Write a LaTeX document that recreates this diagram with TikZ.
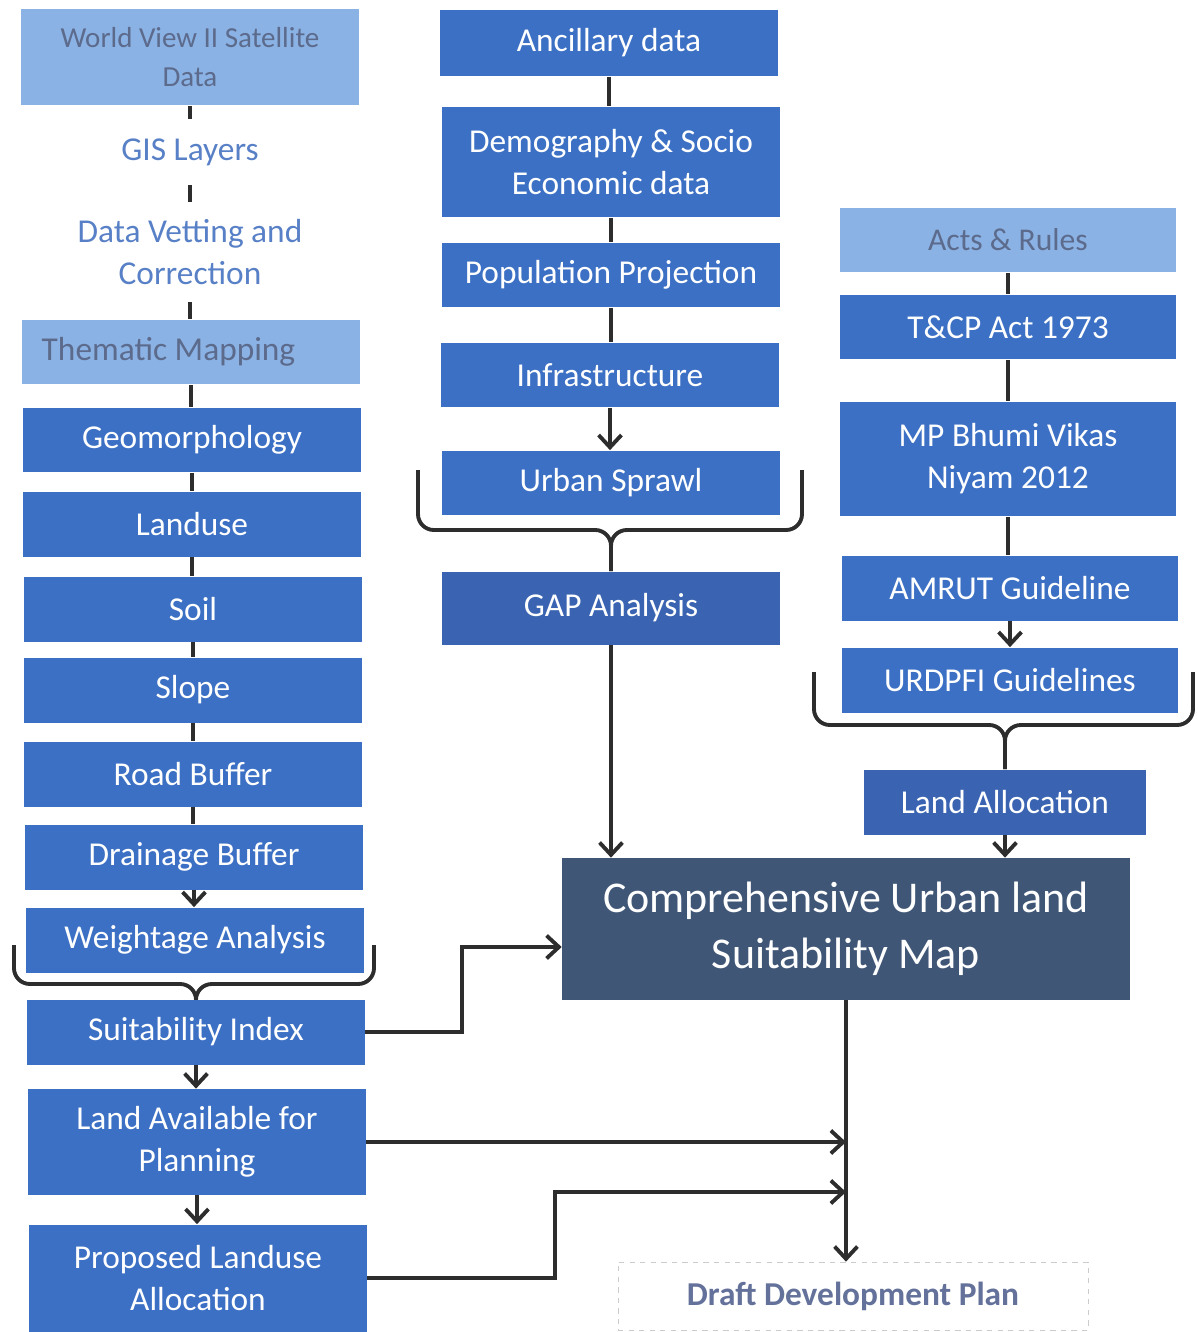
\documentclass[tikz,border=0pt]{standalone}
\usepackage{fontspec}
\setmainfont{Carlito}
\usetikzlibrary{arrows.meta}

\definecolor{boxblue}{RGB}{60,112,196}
\definecolor{gapblue}{RGB}{58,100,178}
\definecolor{paleblue}{RGB}{138,178,228}
\definecolor{paletext}{RGB}{92,106,140}
\definecolor{softtext}{RGB}{88,128,198}
\definecolor{slate}{RGB}{64,86,118}
\definecolor{drafttext}{RGB}{100,114,155}
\definecolor{inkline}{RGB}{45,45,45}

\tikzset{
  stepbox/.style={fill=boxblue, text=white, align=center, inner sep=2pt,
    minimum width=6.76cm, minimum height=1.3cm,
    font=\fontsize{19}{24}\selectfont},
  palebox/.style={stepbox, fill=paleblue, text=paletext},
  plainbox/.style={align=center, text=softtext, minimum width=6.76cm,
    font=\fontsize{19}{24}\selectfont},
  link/.style={draw=inkline, line width=2.2pt},
  arr/.style={link, -{Straight Barb[length=7pt,width=13pt]}},
  brace/.style={link, rounded corners=9pt}
}

\begin{document}
\begin{tikzpicture}[x=0.02cm, y=-0.02cm]
  \useasboundingbox (0,0) rectangle (1197,1332);

  % Left column
  \node[palebox, minimum height=1.94cm, font=\fontsize{16.5}{22}\selectfont] (wv) at (190,57)
    {World View II Satellite\\Data};
  \node[plainbox, minimum height=1.3cm] (gis) at (190,152) {GIS Layers};
  \node[plainbox, minimum height=2cm] (dvc) at (190,252) {Data Vetting and\\Correction};
  \node[palebox] (them) at (191,352) {\hspace*{-0.9cm}Thematic Mapping};
  \node[stepbox] (geo) at (192,440) {Geomorphology};
  \node[stepbox] (lu) at (192,524) {Landuse};
  \node[stepbox] (soil) at (193,609) {Soil};
  \node[stepbox] (slope) at (193,690) {Slope};
  \node[stepbox] (road) at (193,774) {Road Buffer};
  \node[stepbox] (drain) at (194,857) {Drainage Buffer};
  \node[stepbox] (wa) at (195,940) {Weightage Analysis};
  \node[stepbox] (si) at (196,1032) {Suitability Index};
  \node[stepbox, minimum height=2.12cm] (la) at (197,1142) {Land Available for\\Planning};
  \node[stepbox, minimum height=2.14cm] (pl) at (198,1278) {Proposed Landuse\\Allocation};

  \foreach \a/\b in {wv/gis,gis/dvc,dvc/them,them/geo,geo/lu,lu/soil,soil/slope,slope/road,road/drain}
    \draw[link] (\a.south) -- (\a.south |- \b.north);
  \draw[arr] (drain.south) -- (drain.south |- wa.north);
  \draw[arr] (si.south) -- (si.south |- la.north);
  \draw[arr] (la.south) -- (la.south |- pl.north);

  % Brace under weightage
  \coordinate (wal) at (14,945);
  \coordinate (war) at (374,945);
  \draw[brace] (wal) -- (14,984) -- (si.north |- 0,984) -- (si.north);
  \draw[brace] (war) -- (374,984) -- (si.north |- 0,984) -- (si.north);

  % Middle column
  \node[stepbox, minimum height=1.34cm] (anc) at (609,43) {Ancillary data};
  \node[stepbox, minimum height=2.22cm] (demo) at (611,162) {Demography \& Socio\\Economic data};
  \node[stepbox] (pop) at (611,275) {Population Projection};
  \node[stepbox] (infra) at (610,375) {Infrastructure};
  \node[stepbox] (us) at (611,483) {Urban Sprawl};
  \node[stepbox, fill=gapblue, minimum height=1.46cm] (gap) at (611,608) {GAP Analysis};

  \foreach \a/\b in {anc/demo,demo/pop,pop/infra}
    \draw[link] (\a.south) -- (\a.south |- \b.north);
  \draw[arr] (infra.south) -- (infra.south |- us.north);

  \coordinate (usl) at (418,470);
  \coordinate (usr) at (802,470);
  \draw[brace] (usl) -- (418,530) -- (gap.north |- 0,530) -- (gap.north);
  \draw[brace] (usr) -- (802,530) -- (gap.north |- 0,530) -- (gap.north);

  % Right column
  \node[palebox, minimum width=6.72cm, font=\fontsize{18}{22}\selectfont] (acts) at (1008,240) {Acts \& Rules};
  \node[stepbox, minimum width=6.72cm] (tcp) at (1008,327) {T\&CP Act 1973};
  \node[stepbox, minimum width=6.72cm, minimum height=2.3cm] (mp) at (1008,459) {MP Bhumi Vikas\\Niyam 2012};
  \node[stepbox, minimum width=6.72cm] (amrut) at (1010,588) {AMRUT Guideline};
  \node[stepbox, minimum width=6.72cm] (urdpfi) at (1010,680) {URDPFI Guidelines};
  \node[stepbox, fill=gapblue, minimum width=5.64cm] (lalloc) at (1005,802) {Land Allocation};

  \foreach \a/\b in {acts/tcp,tcp/mp,mp/amrut}
    \draw[link] (\a.south) -- (\a.south |- \b.north);
  \draw[arr] (amrut.south) -- (amrut.south |- urdpfi.north);

  \coordinate (url) at (814,672);
  \coordinate (urr) at (1193,672);
  \draw[brace] (url) -- (814,725) -- (lalloc.north |- 0,725) -- (lalloc.north);
  \draw[brace] (urr) -- (1193,725) -- (lalloc.north |- 0,725) -- (lalloc.north);

  % Result
  \node[stepbox, fill=slate, minimum width=11.36cm, minimum height=2.84cm,
    font=\fontsize{25}{32}\selectfont] (cum) at (846,929)
    {Comprehensive Urban land\\Suitability Map};
  \node[draw=gray!40, dashed, fill=white, minimum width=9.4cm, minimum height=1.36cm,
    text=drafttext, font=\fontsize{19}{22}\selectfont\bfseries] (draft) at (853,1296)
    {Draft Development Plan};

  \draw[arr] (gap.south) -- (gap.south |- cum.north);
  \draw[arr] (lalloc.south) -- (lalloc.south |- cum.north);
  \draw[arr] (si.east) -- (462,1032) -- (462,947) -- (cum.west |- 0,947);
  \draw[arr] (cum.south) -- (cum.south |- draft.north);
  \draw[arr] (la.east) -- (la.east -| cum.south);
  \draw[arr] (pl.east) -- (555,1278) -- (555,1192) -- (cum.south |- 0,1192);
\end{tikzpicture}
\end{document}
